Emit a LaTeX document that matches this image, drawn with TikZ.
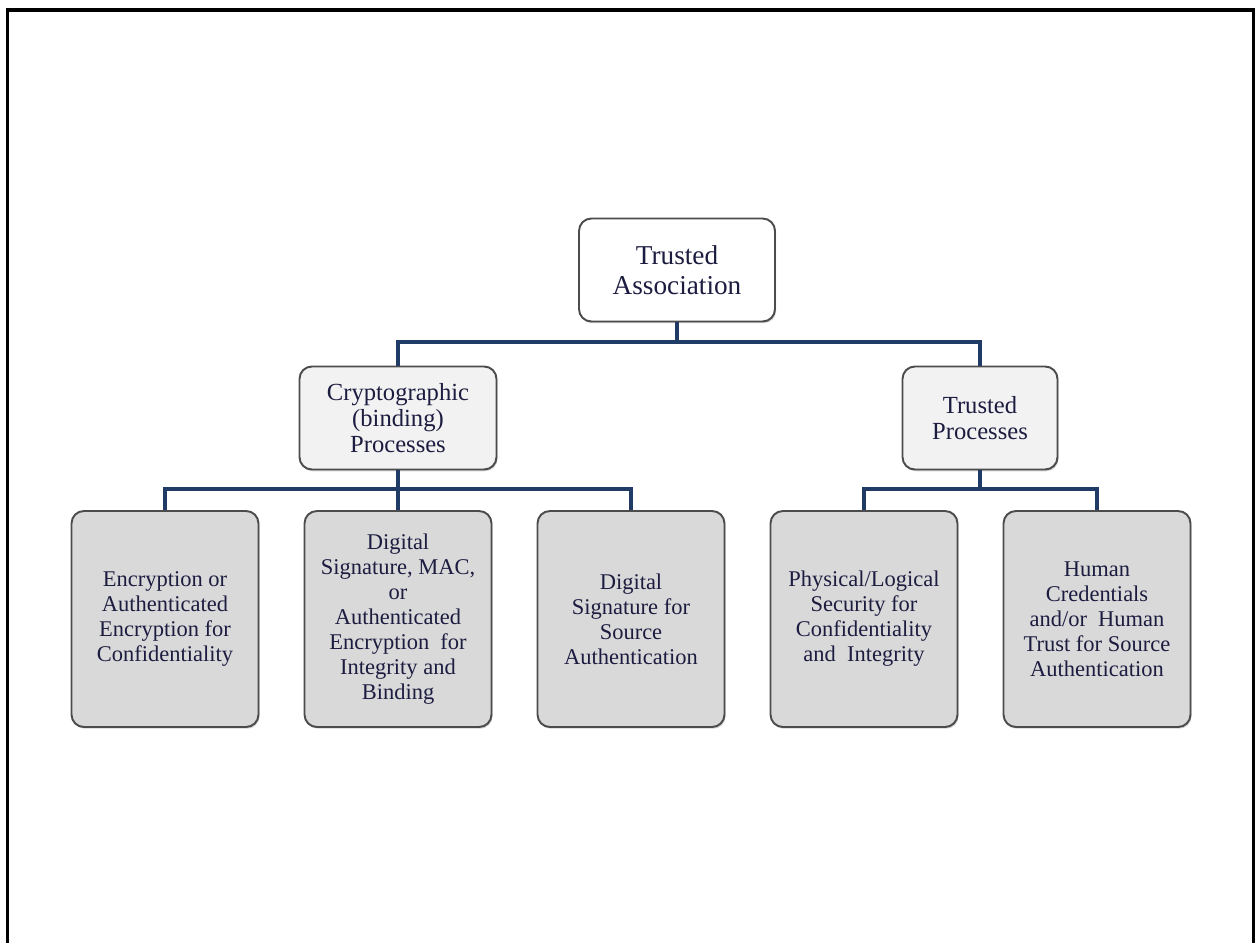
\documentclass[tikz,border=0pt]{standalone}
\usepackage{fontspec}
\setmainfont{Liberation Serif}
\usetikzlibrary{shadows}
\definecolor{inkblue}{HTML}{1C1C40}
\definecolor{linkblue}{HTML}{1F3B66}
\definecolor{topfill}{HTML}{FFFFFF}
\definecolor{midfill}{HTML}{F2F2F2}
\definecolor{lowfill}{HTML}{D9D9D9}
\begin{document}
\begin{tikzpicture}[x=0.02cm, y=-0.02cm,
        box/.style = {draw = black!70, line width = 1.1pt, rounded corners = 7pt,
            align = center, text = inkblue, inner sep = 0pt,
            drop shadow = {shadow xshift = 0.6pt, shadow yshift = -1pt, opacity = 0.35}},
        rootbox/.style = {box, fill = topfill, minimum width = 3.92cm, minimum height = 2.06cm,
            font = \fontsize{15.5}{17}\selectfont},
        midbox/.style = {box, fill = midfill, minimum height = 2.06cm,
            font = \fontsize{14}{14.8}\selectfont},
        leafbox/.style = {box, fill = lowfill, minimum width = 3.74cm, minimum height = 4.32cm,
            font = \fontsize{12.8}{14.2}\selectfont},
        link/.style = {draw = linkblue, line width = 2.2pt}]
    \useasboundingbox (0,0) rectangle (1255,943);
    % frame
    \draw[line width = 2.2pt] (7.5,943) -- (7.5,10) -- (1253.8,10) -- (1253.8,943);
    % boxes
    \node[rootbox] (ta) at (677,270) {Trusted\\Association};
    \node[midbox, minimum width = 3.94cm] (cp) at (398,418) {Cryptographic\\(binding)\\Processes};
    \node[midbox, minimum width = 3.1cm] (tp) at (980,418) {Trusted\\Processes};
    \node[leafbox] (enc) at (165,619) {Encryption or\\Authenticated\\Encryption for\\Confidentiality};
    \node[leafbox] (sig) at (398,619) {Digital\\Signature, MAC,\\or\\Authenticated\\Encryption~ for\\Integrity and\\Binding};
    \node[leafbox] (src) at (631,619) {Digital\\Signature for\\Source\\Authentication};
    \node[leafbox] (phy) at (864,619) {Physical/Logical\\Security for\\Confidentiality\\and~ Integrity};
    \node[leafbox] (hum) at (1097,619) {Human\\Credentials\\and/or~ Human\\Trust for Source\\Authentication};
    % connectors
    \coordinate (busa) at (677,342);
    \coordinate (busb) at (398,489);
    \coordinate (busc) at (980,489);
    \draw[link] (ta.south) -- (busa);
    \draw[link] (cp.north) |- (busa) -| (tp.north);
    \draw[link] (cp.south) -- (busb);
    \draw[link] (enc.north) |- (busb) -| (src.north);
    \draw[link] (busb) -- (sig.north);
    \draw[link] (tp.south) -- (busc);
    \draw[link] (phy.north) |- (busc) -| (hum.north);
\end{tikzpicture}
\end{document}
